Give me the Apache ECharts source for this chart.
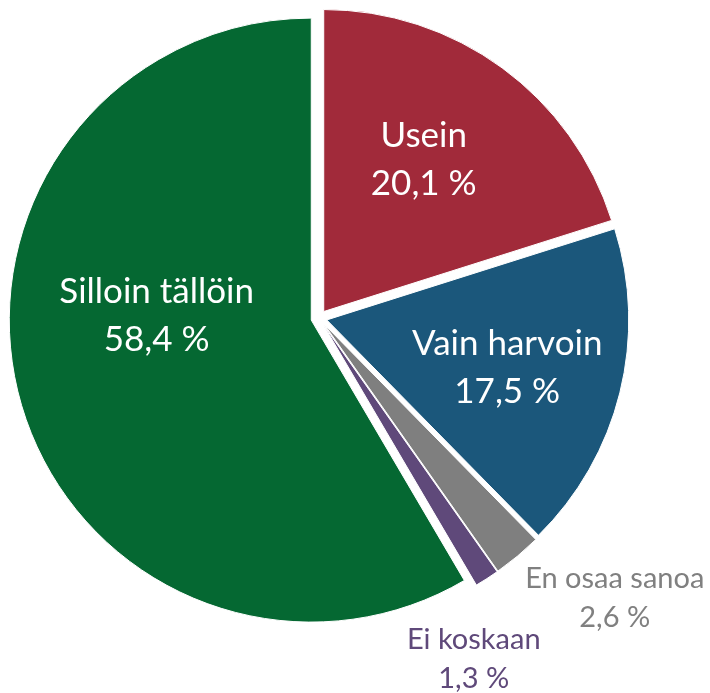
<!DOCTYPE html>
<html>
<head>
<meta charset="utf-8">
<script src="https://cdn.jsdelivr.net/npm/echarts@6/dist/echarts.min.js"></script>
<style>
  html, body { margin: 0; padding: 0; background: #fff; }
  #chart { width: 710px; height: 693px; }
</style>
</head>
<body>
<div id="chart"></div>
<script>
  // answer shares, clockwise from 12 o'clock
  const categories = ['Usein', 'Vain harvoin', 'En osaa sanoa', 'Ei koskaan', 'Silloin tällöin'];
  const values = [20.1, 17.5, 2.6, 1.3, 58.4];
  const colors = ['#a12a3a', '#1b577b', '#7f7f7f', '#5f497a', '#056832'];
  const inside = [true, true, false, false, true];
  // label nudges away from the default inside spot
  const labelShift = [[9, -28], [31, 11], [192, 156], [67, 205], [-6, -45]];

  const fmt = v => v.toFixed(1).replace('.', ',') + ' %';

  const chart = echarts.init(document.getElementById('chart'), null, { renderer: 'canvas' });
  chart.setOption({
    animation: false,
    series: [{
      type: 'pie',
      center: [319, 318],
      radius: [0, 302],
      startAngle: 90,
      clockwise: true,
      selectedMode: 'multiple',
      selectedOffset: 8,
      avoidLabelOverlap: false,
      emphasis: { disabled: true },
      itemStyle: { borderColor: '#fff', borderWidth: 1 },
      label: {
        show: true,
        position: 'inside',
        fontFamily: 'Lato',
        formatter: p => p.name + '\n' + fmt(p.value)
      },
      labelLine: { show: false },
      labelLayout: p => ({
        dx: labelShift[p.dataIndex][0],
        dy: labelShift[p.dataIndex][1],
        hideOverlap: false
      }),
      data: categories.map((name, i) => ({
        name,
        value: values[i],
        selected: true,
        itemStyle: { color: colors[i] },
        label: inside[i]
          ? { color: '#fff', fontSize: 35, lineHeight: 48 }
          : { color: colors[i] === '#7f7f7f' ? '#808080' : colors[i], fontSize: 29, lineHeight: 39 }
      }))
    }]
  });
</script>
</body>
</html>
